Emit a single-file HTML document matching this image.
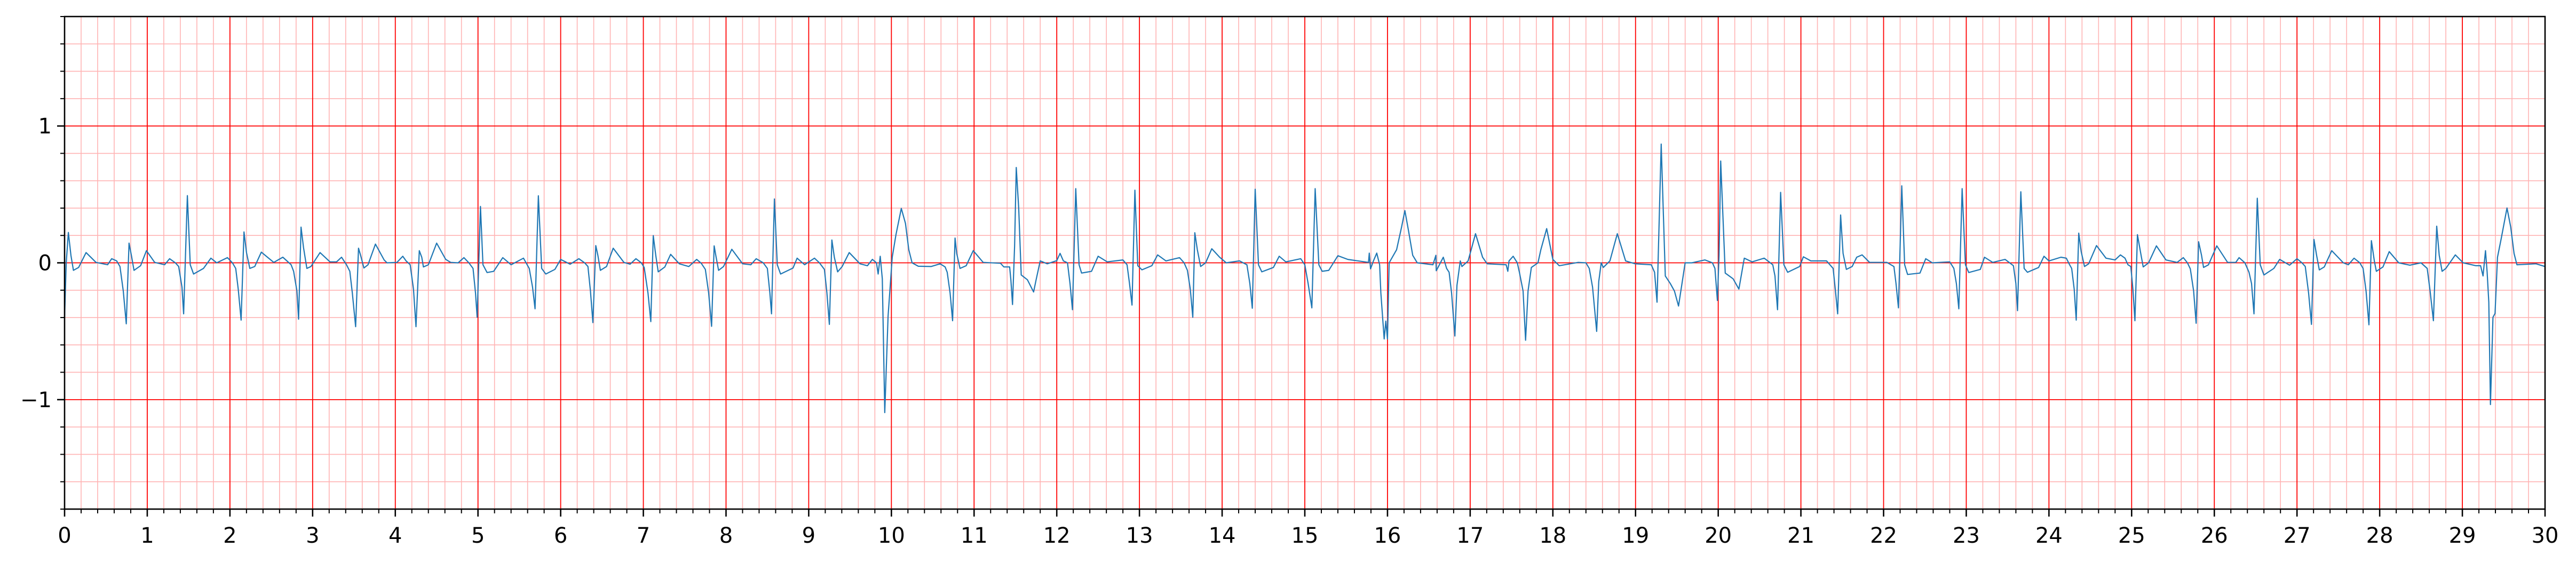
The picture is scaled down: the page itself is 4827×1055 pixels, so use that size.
<!DOCTYPE html>
<html><head><meta charset="utf-8"><style>
html,body{margin:0;padding:0;background:#fff;}
svg{display:block;}
text{font-family:"DejaVu Sans","Liberation Sans",sans-serif;font-size:40px;fill:#000;}
</style></head><body>
<svg id="chart" width="4827" height="1055" viewBox="0 0 4827 1055" xmlns="http://www.w3.org/2000/svg">
<rect x="0" y="0" width="4827" height="1055" fill="#fff"/>
<g id="grid"></g>
<g id="trace"></g>
<g id="axes"></g>
</svg>
<script>
const xTickLabels = [0,1,2,3,4,5,6,7,8,9,10,11,12,13,14,15,16,17,18,19,20,21,22,23,24,25,26,27,28,29,30];
const yTickLabels = [-1,0,1];
const timeSec = [
0,0.02,0.046,0.077,0.107,0.17,0.26,0.38,0.52,0.57,0.63,0.67,0.71,0.746,0.78,0.81,0.84,0.92,0.99,1.09,1.21,1.27,1.34,1.38,1.42,1.44,1.485,1.52,1.56,1.68,1.77,1.84,1.97,2.03,2.07,2.10,2.135,2.17,2.20,2.24,2.30,2.38,2.53,2.64,2.74,2.77,2.81,2.83,2.86,2.89,2.93,2.98,3.09,3.21,3.29,3.35,3.41,3.45,3.48,3.52,3.555,3.58,3.62,3.67,3.76,3.865,3.90,4.02,4.09,4.13,4.18,4.22,4.25,4.29,4.32,4.34,4.40,4.50,4.61,4.67,4.76,4.83,4.89,4.94,4.97,4.99,5.03,5.06,5.11,5.19,5.30,5.40,5.55,5.62,5.66,5.69,5.73,5.77,5.82,5.93,6.0,
6.115,6.22,6.29,6.33,6.36,6.39,6.425,6.45,6.48,6.555,6.635,6.765,6.84,6.91,6.976,7.01,7.056,7.09,7.12,7.15,7.18,7.26,7.33,7.435,7.55,7.645,7.70,7.75,7.79,7.825,7.856,7.88,7.91,7.97,8.07,8.20,8.30,8.365,8.45,8.50,8.53,8.55,8.585,8.62,8.66,8.81,8.86,8.95,9.07,9.13,9.19,9.22,9.25,9.28,9.31,9.35,9.405,9.49,9.62,9.71,9.77,9.82,9.84,9.865,9.89,9.92,9.96,10.01,10.055,10.12,10.17,10.21,10.25,10.325,10.48,10.59,10.65,10.675,10.71,10.74,10.77,10.79,10.83,10.905,10.99,11.11,11.32,11.36,11.43,11.445,11.465,11.49,11.51,11.54,11.57,11.645,11.72,11.75,11.80,11.885,12.0,
12.04,12.08,12.13,12.16,12.19,12.23,12.27,12.30,12.42,12.50,12.61,12.80,12.85,12.88,12.91,12.945,12.98,13.03,13.15,13.22,13.32,13.485,13.54,13.58,13.615,13.645,13.67,13.70,13.74,13.80,13.875,13.97,14.05,14.21,14.30,14.335,14.365,14.40,14.44,14.48,14.62,14.69,14.77,14.95,15.00,15.04,15.085,15.125,15.17,15.21,15.29,15.40,15.52,15.77,15.78,15.795,15.83,15.87,15.905,15.92,15.96,15.98,16.0,16.02,16.11,16.17,16.21,16.255,16.305,16.36,16.55,16.585,16.59,16.64,16.675,16.715,16.745,16.775,16.815,16.84,16.88,16.90,16.975,17.065,17.15,17.205,17.435,17.455,17.47,17.52,17.57,17.595,17.64,17.67,17.70,17.74,17.82,17.855,17.925,18.0,
18.077,18.306,18.40,18.44,18.48,18.53,18.555,18.585,18.61,18.69,18.78,18.88,18.995,19.19,19.23,19.26,19.31,19.36,19.42,19.47,19.52,19.60,19.68,19.84,19.93,19.96,19.99,20.01,20.03,20.085,20.18,20.25,20.315,20.41,20.556,20.66,20.686,20.717,20.755,20.794,20.84,20.985,21.03,21.12,21.31,21.39,21.42,21.445,21.48,21.51,21.55,21.62,21.675,21.74,21.83,22.04,22.125,22.15,22.18,22.22,22.255,22.29,22.44,22.51,22.59,22.80,22.85,22.88,22.91,22.95,22.99,23.03,23.17,23.22,23.32,23.47,23.57,23.60,23.62,23.66,23.70,23.74,23.875,23.94,24.0,
24.145,24.21,24.25,24.275,24.305,24.33,24.36,24.39,24.43,24.48,24.575,24.69,24.80,24.865,24.92,24.955,24.99,25.015,25.04,25.07,25.11,25.14,25.205,25.30,25.415,25.55,25.625,25.675,25.71,25.75,25.78,25.81,25.845,25.87,25.93,26.03,26.16,26.26,26.30,26.37,26.42,26.45,26.48,26.52,26.555,26.60,26.72,26.79,26.91,27.00,27.06,27.10,27.14,27.175,27.205,27.235,27.27,27.33,27.42,27.56,27.62,27.69,27.76,27.80,27.835,27.87,27.90,27.935,27.96,28.04,28.115,28.23,28.365,28.50,28.575,28.61,28.65,28.69,28.72,28.755,28.80,28.915,29.01,29.165,29.22,29.25,29.28,29.30,29.32,29.34,29.37,29.395,29.425,29.47,29.54,29.585,29.625,29.66,29.89,30.0];
const voltMv = [
-0.40,0.0,0.222,0.055,-0.055,-0.034,0.075,0.003,-0.014,0.030,0.014,-0.027,-0.206,-0.446,0.144,0.048,-0.055,-0.021,0.089,0.003,-0.014,0.030,0,-0.027,-0.178,-0.373,0.491,-0.014,-0.082,-0.041,0.034,0,0.038,0,-0.041,-0.192,-0.419,0.226,0.075,-0.041,-0.027,0.078,0.003,0.041,-0.014,-0.062,-0.206,-0.412,0.261,0.110,-0.041,-0.027,0.075,0.007,0.007,0.041,-0.014,-0.062,-0.220,-0.467,0.107,0.055,-0.038,-0.014,0.137,0.021,0,0.003,0.048,0.014,-0.014,-0.192,-0.467,0.089,0.041,-0.030,-0.014,0.144,0.025,0.003,0,0.038,0,-0.041,-0.220,-0.398,0.412,-0.014,-0.071,-0.062,0.038,-0.014,0.034,-0.041,-0.178,-0.336,0.490,-0.041,-0.082,-0.048,0.025,
-0.010,0.030,0,-0.027,-0.206,-0.437,0.126,0.055,-0.055,-0.027,0.107,0.003,-0.010,0.030,0,-0.034,-0.220,-0.430,0.199,0.055,-0.066,-0.030,0.062,-0.007,-0.027,0.025,-0.003,-0.048,-0.220,-0.464,0.124,0.041,-0.055,-0.027,0.099,-0.007,-0.014,0.030,0,-0.041,-0.220,-0.373,0.467,-0.014,-0.082,-0.038,0.034,-0.014,0.034,0,-0.048,-0.220,-0.450,0.167,0.041,-0.066,-0.027,0.075,-0.007,-0.021,0.025,0,-0.082,0.048,-0.117,-1.095,-0.391,0.041,0.206,0.398,0.288,0.096,0,-0.025,-0.027,-0.007,-0.030,-0.069,-0.220,-0.423,0.181,0.069,-0.041,-0.021,0.089,0.003,-0.003,-0.030,-0.030,-0.124,-0.305,0.124,0.697,0.398,-0.089,-0.124,-0.213,-0.124,0.014,-0.007,0.016,
0.069,0.014,0,-0.151,-0.343,0.542,-0.014,-0.075,-0.062,0.048,0.007,0.021,-0.014,-0.151,-0.309,0.531,-0.021,-0.051,-0.021,0.058,0.014,0.038,0,-0.055,-0.192,-0.398,0.220,0.096,-0.027,0,0.103,0.041,0,0.014,-0.014,-0.151,-0.332,0.538,-0.014,-0.066,-0.034,0.048,0.007,0.030,-0.014,-0.151,-0.329,0.542,-0.014,-0.062,-0.055,0.052,0.025,0.003,0.071,-0.044,0.014,0.071,-0.014,-0.220,-0.556,-0.426,-0.556,0,0.096,0.261,0.382,0.233,0.055,0,-0.014,0.055,-0.058,0,0.041,-0.041,-0.069,-0.220,-0.535,-0.165,0.014,-0.027,0.014,0.213,0.041,-0.007,-0.014,-0.062,0.014,0.048,0,-0.069,-0.206,-0.566,-0.206,-0.034,0,0.096,0.250,0.025,
-0.021,0.003,0,-0.041,-0.178,-0.501,-0.137,0,-0.034,0.014,0.213,0.014,-0.007,-0.014,-0.069,-0.288,0.868,-0.096,-0.151,-0.206,-0.316,0,0,0.021,0,-0.041,-0.275,0.055,0.744,-0.075,-0.117,-0.192,0.034,0.007,0.034,-0.014,-0.096,-0.343,0.515,-0.014,-0.069,-0.027,0.044,0.014,0.014,-0.041,-0.220,-0.373,0.350,0.069,-0.048,-0.027,0.041,0.058,0.003,0.003,-0.027,-0.151,-0.329,0.563,-0.014,-0.085,-0.075,0.030,0,0.007,-0.041,-0.151,-0.336,0.542,-0.014,-0.071,-0.048,0.041,0.003,0.025,-0.021,-0.151,-0.350,0.519,-0.041,-0.069,-0.034,0.048,0.014,
0.041,0.034,-0.014,-0.041,-0.192,-0.419,0.217,0.082,-0.027,-0.007,0.126,0.034,0.021,0.058,0.034,-0.014,-0.027,-0.192,-0.423,0.206,0.069,-0.030,0,0.124,0.021,0.003,0.038,0,-0.044,-0.206,-0.442,0.154,0.055,-0.034,-0.014,0.124,0.003,0.003,0.038,0,-0.069,-0.151,-0.373,0.472,-0.014,-0.089,-0.041,0.025,-0.017,0.030,0,-0.027,-0.220,-0.450,0.171,0.062,-0.052,-0.030,0.089,0,-0.014,0.034,0,-0.041,-0.206,-0.453,0.162,0.014,-0.062,-0.030,0.082,0,-0.017,0,-0.041,-0.206,-0.423,0.268,0.055,-0.062,-0.041,0.058,0,-0.021,-0.021,-0.096,0.089,-0.069,-0.288,-1.036,-0.398,-0.370,0.041,0.178,0.401,0.261,0.069,-0.014,-0.007,-0.027];

const NS='http://www.w3.org/2000/svg';
const L=121,R=4769,T=31,B=954;
const X0=0,X1=30,Y0=-1.8,Y1=1.8;
function sx(t){return L+(t-X0)/(X1-X0)*(R-L);}
function sy(v){return B-(v-Y0)/(Y1-Y0)*(B-T);}
function mk(tag,attrs,parent){const e=document.createElementNS(NS,tag);for(const k in attrs)e.setAttribute(k,attrs[k]);parent.appendChild(e);return e;}
const grid=document.getElementById('grid');
const axes=document.getElementById('axes');
const trace=document.getElementById('trace');

for(let i=0;i<=150;i++){
  const t=i*0.2; if(i%5===0) continue;
  const ln=mk('line',{x1:sx(t),x2:sx(t),y1:T,y2:B,stroke:'#ffb3b3','stroke-width':1.6},grid);
  
  
}
for(let i=-9;i<=9;i++){
  if(i%5===0) continue;
  const v=i*0.2;
  const ln=mk('line',{x1:L,x2:R,y1:sy(v),y2:sy(v),stroke:'#ffb3b3','stroke-width':1.6},grid);
  
  
}
xTickLabels.forEach(t=>{
  const ln=mk('line',{x1:sx(t),x2:sx(t),y1:T,y2:B,stroke:'#ff0000','stroke-width':1.8},grid);
  
  
});
yTickLabels.forEach(v=>{
  const ln=mk('line',{x1:L,x2:R,y1:sy(v),y2:sy(v),stroke:'#ff0000','stroke-width':1.8},grid);
  
  
});

let d='';
for(let i=0;i<timeSec.length;i++){d+=(i?'L':'M')+sx(timeSec[i]).toFixed(1)+' '+sy(voltMv[i]).toFixed(1);}
const p=mk('path',{d:d,fill:'none',stroke:'#1f77b4','stroke-width':2.2,'stroke-linejoin':'round'},trace);



const sp=mk('rect',{x:L,y:T,width:R-L,height:B-T,fill:'none',stroke:'#000','stroke-width':2.6},axes);



for(let i=0;i<=150;i++){
  const t=i*0.2, major=i%5===0;
  const tk=mk('line',{x1:sx(t),x2:sx(t),y1:B,y2:B+(major?14:8),stroke:'#000','stroke-width':major?2.6:2},axes);
  
  
}
xTickLabels.forEach(t=>{
  const tx=mk('text',{x:sx(t),y:1017,'text-anchor':'middle'},axes);
  tx.textContent=String(t);
  
  
});
for(let i=-9;i<=9;i++){
  const v=i*0.2, major=i%5===0;
  const tk=mk('line',{x1:L-(major?14:8),x2:L,y1:sy(v),y2:sy(v),stroke:'#000','stroke-width':major?2.6:2},axes);
  
  
}
yTickLabels.forEach(v=>{
  const tx=mk('text',{x:L-24,y:sy(v)+14,'text-anchor':'end'},axes);
  tx.textContent=v<0?'\u2212'+Math.abs(v):String(v);
  
  
});
</script>
</body></html>
